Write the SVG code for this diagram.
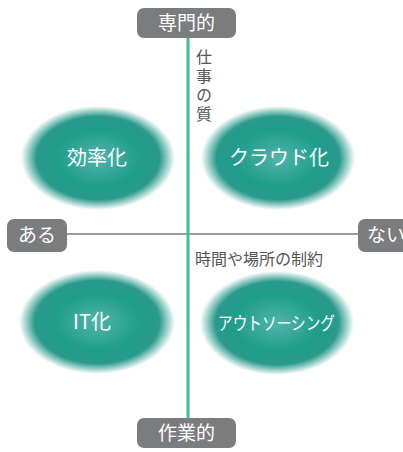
<svg xmlns="http://www.w3.org/2000/svg" width="403" height="452" viewBox="0 0 403 452">
<style>
.lbl{fill:#7b7c7e}
.lt{font-family:"Noto Sans CJK JP","Noto Sans",sans-serif;fill:#fff;font-size:19px;text-anchor:middle}
.et{font-family:"Noto Sans CJK JP","Noto Sans",sans-serif;fill:#fff;font-size:20px;text-anchor:middle}
.gt{font-family:"Noto Sans CJK JP","Noto Sans",sans-serif;fill:#555;font-size:16px}
</style>
<defs>
<radialGradient id="g" cx="0.5" cy="0.5" r="0.5">
<stop offset="0" stop-color="#52b4aa"/>
<stop offset="0.55" stop-color="#1f9d8d"/>
<stop offset="0.8" stop-color="#2a9a8c"/>
<stop offset="1" stop-color="#2a9a8c" stop-opacity="0"/>
</radialGradient>
</defs>
<rect width="403" height="452" fill="#fff"/>
<g id="connectors">
<line x1="67" y1="234" x2="358" y2="234" stroke="#9a9a9a" stroke-width="2"/>
<line x1="188" y1="38" x2="188" y2="418" stroke="#3dbf8f" stroke-width="3"/>
</g>
<g id="top"><rect class="lbl" x="137" y="8" width="99" height="30" rx="7"/><text class="lt" x="186.5" y="30">専門的</text></g>
<g id="bottom"><rect class="lbl" x="137" y="418" width="99" height="30" rx="7"/><text class="lt" x="186.5" y="440">作業的</text></g>
<g id="left"><rect class="lbl" x="7" y="219" width="60" height="33" rx="7"/><text class="lt" x="37" y="242">ある</text></g>
<g id="right"><rect class="lbl" x="358" y="219" width="60" height="33" rx="7"/><text class="lt" x="367" y="242" style="text-anchor:start">ない</text></g>
<g id="axis-v-label"><text class="gt" x="204" y="49" style="writing-mode:vertical-rl;letter-spacing:3px">仕事の質</text></g>
<g id="axis-h-label"><text class="gt" x="195" y="265">時間や場所の制約</text></g>
<g id="n1"><ellipse cx="98" cy="158" rx="77" ry="52" fill="url(#g)"/><text class="et" x="97" y="165">効率化</text></g>
<g id="n2"><ellipse cx="278" cy="158" rx="77" ry="52" fill="url(#g)"/><text class="et" x="279" y="165">クラウド化</text></g>
<g id="n3"><ellipse cx="97" cy="322" rx="78" ry="52" fill="url(#g)"/><text class="et" x="92" y="329">IT化</text></g>
<g id="n4"><ellipse cx="277" cy="323" rx="77" ry="52" fill="url(#g)"/><text class="et" x="276.5" y="330" textLength="117" lengthAdjust="spacingAndGlyphs" style="font-size:18px">アウトソーシング</text></g>
</svg>
